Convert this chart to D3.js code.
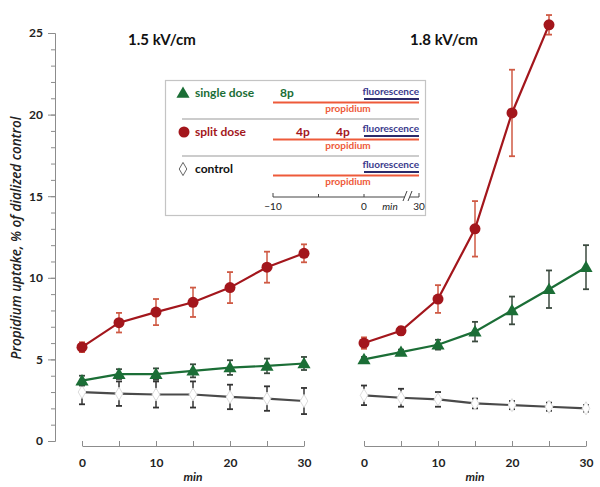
<!DOCTYPE html>
<html><head><meta charset="utf-8">
<script src="https://cdn.jsdelivr.net/npm/d3@7"></script>
<style>body{margin:0;background:#fff}svg{display:block}</style>
</head><body>
<svg id="c" width="600" height="487"></svg>
<script>
// ---- data ----
const minutes = [0, 5, 10, 15, 20, 25, 30];
const panelTitles = ["1.5 kV/cm", "1.8 kV/cm"];
const yTicks = [0, 5, 10, 15, 20, 25];
const xTickLabels = [0, 10, 20, 30];

const split15 = [5.75, 7.25, 7.9, 8.5, 9.4, 10.65, 11.5];
const split15Err = [0.3, 0.6, 0.8, 0.9, 0.95, 0.95, 0.55];
const single15 = [3.7, 4.1, 4.1, 4.3, 4.5, 4.6, 4.75];
const single15Err = [0.3, 0.3, 0.35, 0.4, 0.45, 0.45, 0.4];
const control15 = [3.0, 2.9, 2.85, 2.85, 2.7, 2.6, 2.45];
const control15Err = [0.75, 0.75, 0.8, 0.8, 0.75, 0.75, 0.8];

const split18 = [6.0, 6.75, 8.7, 13.0, 20.1, 25.5, null];
const split18Err = [0.35, 0.25, 0.85, 1.7, 2.65, 0.6, null];
const single18 = [5.0, 5.45, 5.9, 6.7, 8.0, 9.3, 10.65];
const single18Err = [0.15, 0.15, 0.3, 0.6, 0.85, 1.15, 1.35];
const control18 = [2.8, 2.65, 2.55, 2.3, 2.2, 2.1, 2.0];
const control18Err = [0.6, 0.55, 0.45, 0.3, 0.25, 0.25, 0.2];

const legendLabels = ["single dose", "split dose", "control"];

// ---- styles ----
const RED = "#a3161c", RED_ERR = "#cf5a44";
const GREEN = "#1b6e36", GREEN_ERR = "#3b4a3f";
const GRAY = "#4a4a4a", GRAY_ERR = "#333";
const AXIS = "#8c8c8c";
const FONT = "Lato, 'Open Sans', sans-serif";

const svg = d3.select("#c");
const y = d3.scaleLinear().domain([0, 25]).range([441, 33]);
const xs = [
  d3.scaleLinear().domain([0, 30]).range([82, 304]),
  d3.scaleLinear().domain([0, 30]).range([364, 586])
];

// y axis
const yAxisG = svg.append("g").attr("transform", "translate(55,0)");
yAxisG.append("g").call(d3.axisLeft(y).tickValues(d3.range(0, 26, 1)).tickSize(4).tickSizeOuter(0).tickFormat(""));
yAxisG.append("g").call(d3.axisLeft(y).tickValues(yTicks).tickSize(7).tickSizeOuter(0).tickPadding(5));
yAxisG.selectAll("path,line").attr("stroke", AXIS);
yAxisG.selectAll("text").attr("font-family", FONT).attr("font-weight", "bold").attr("font-size", 12).attr("fill", "#222");

const yLab = svg.append("text")
  .attr("transform", "translate(21,238) rotate(-90)")
  .attr("text-anchor", "middle")
  .attr("font-family", "'Open Sans', sans-serif").attr("font-style", "italic").attr("font-weight", 600)
  .attr("font-size", 12).attr("fill", "#222")
  .text("Propidium uptake, % of dialized control");
const natLen = yLab.node().getComputedTextLength();
if (natLen > 0) yLab.attr("font-size", (12 * 243 / natLen).toFixed(2));

// x axes
xs.forEach((x, i) => {
  const g = svg.append("g").attr("transform", "translate(0,446)")
    .call(d3.axisBottom(x).tickValues(minutes).tickSize(-5).tickSizeOuter(0).tickPadding(12)
      .tickFormat(d => xTickLabels.includes(d) ? d : ""));
  g.selectAll("path,line").attr("stroke", AXIS);
  g.selectAll("text").attr("font-family", FONT).attr("font-weight", "bold").attr("font-size", 12).attr("fill", "#222");
  svg.append("text").attr("x", (x.range()[0] + x.range()[1]) / 2).attr("y", 481)
    .attr("text-anchor", "middle").attr("font-family", FONT).attr("font-style", "italic")
    .attr("font-weight", "bold").attr("font-size", 12).attr("fill", "#222").text("min");
  svg.append("text").attr("x", x(10.8)).attr("y", 45)
    .attr("text-anchor", "middle").attr("font-family", FONT).attr("font-weight", "bold")
    .attr("font-size", 15).attr("fill", "#111").text(panelTitles[i]);
});

const triangle = d3.symbol().type(d3.symbolTriangle).size(75);
const diamond = d3.symbol().type(d3.symbolDiamond).size(50);

function drawSeries(x, vals, errs, color, errColor, marker) {
  const pts = minutes.map((m, i) => ({ m, v: vals[i], e: errs[i] })).filter(d => d.v != null);
  const g = svg.append("g");
  // error bars
  pts.forEach(d => {
    const cx = x(d.m), t = y(d.v + d.e), b = y(d.v - d.e);
    g.append("line").attr("x1", cx).attr("x2", cx).attr("y1", t).attr("y2", b).attr("stroke", errColor).attr("stroke-width", 1.5);
    [t, b].forEach(yy => g.append("line").attr("x1", cx - 3).attr("x2", cx + 3).attr("y1", yy).attr("y2", yy).attr("stroke", errColor).attr("stroke-width", 1.8));
  });
  g.append("path").datum(pts)
    .attr("d", d3.line().x(d => x(d.m)).y(d => y(d.v)))
    .attr("fill", "none").attr("stroke", color).attr("stroke-width", 2.2);
  pts.forEach(d => {
    if (marker === "circle") {
      g.append("circle").attr("cx", x(d.m)).attr("cy", y(d.v)).attr("r", 5.5).attr("fill", color);
    } else if (marker === "triangle") {
      g.append("path").attr("d", triangle).attr("transform", `translate(${x(d.m)},${y(d.v) + 1})`).attr("fill", color);
    } else {
      g.append("path").attr("d", diamond).attr("transform", `translate(${x(d.m)},${y(d.v)})`)
        .attr("fill", "#fff").attr("stroke", "#ddd").attr("stroke-width", 1);
    }
  });
}

drawSeries(xs[0], control15, control15Err, GRAY, GRAY_ERR, "diamond");
drawSeries(xs[0], single15, single15Err, GREEN, GREEN_ERR, "triangle");
drawSeries(xs[0], split15, split15Err, RED, RED_ERR, "circle");
drawSeries(xs[1], control18, control18Err, GRAY, GRAY_ERR, "diamond");
drawSeries(xs[1], single18, single18Err, GREEN, GREEN_ERR, "triangle");
drawSeries(xs[1], split18, split18Err, RED, RED_ERR, "circle");

// ---- legend ----
const L = svg.append("g");
L.append("rect").attr("x", 165.5).attr("y", 80.5).attr("width", 260).attr("height", 135)
  .attr("fill", "#fff").attr("stroke", "#c4c4c4").attr("stroke-width", 1.2);
const lx = d3.scaleLinear().domain([-10, 0]).range([273, 364]);
const lEnd = 419;
const rowY = [93, 132, 169];
const fluorY = [91, 128, 164];
const labelColors = [GREEN, RED, "#111"];
const BLUE = "#3a3a8c", NAVY = "#2a2a6a", ORANGE = "#ee5a3a";
rowY.forEach((ry, i) => {
  if (i === 0) L.append("path").attr("d", triangle).attr("transform", `translate(183,${ry + 1})`).attr("fill", GREEN);
  if (i === 1) L.append("circle").attr("cx", 184).attr("cy", ry).attr("r", 5.5).attr("fill", RED);
  if (i === 2) L.append("path").attr("d", diamond).attr("transform", `translate(183,${ry})`).attr("fill", "#fff").attr("stroke", "#666").attr("stroke-width", 1);
  L.append("text").attr("x", 195).attr("y", ry + 4).attr("font-family", FONT).attr("font-weight", "bold")
    .attr("font-size", 12).attr("fill", labelColors[i]).text(legendLabels[i]);
  const fc = fluorY[i];
  L.append("text").attr("x", lEnd).attr("y", fc + 3.5).attr("text-anchor", "end").attr("font-family", FONT)
    .attr("font-weight", "bold").attr("font-size", 10).attr("fill", BLUE).text("fluorescence");
  L.append("line").attr("x1", lx(0)).attr("x2", lEnd).attr("y1", fc + 8).attr("y2", fc + 8).attr("stroke", NAVY).attr("stroke-width", 2);
  L.append("line").attr("x1", lx(-10)).attr("x2", lEnd).attr("y1", fc + 11.5).attr("y2", fc + 11.5).attr("stroke", ORANGE).attr("stroke-width", 2);
  L.append("text").attr("x", 348).attr("y", fc + 21).attr("text-anchor", "middle").attr("font-family", FONT)
    .attr("font-weight", "bold").attr("font-size", 10).attr("fill", ORANGE).text("propidium");
  if (i < 2) L.append("line").attr("x1", 182).attr("x2", lEnd).attr("y1", [119, 156][i]).attr("y2", [119, 156][i]).attr("stroke", "#999").attr("stroke-width", 1);
});
// dose labels
L.append("text").attr("x", lx(-10) + 14).attr("y", rowY[0] + 4).attr("text-anchor", "middle").attr("font-family", FONT).attr("font-weight", "bold").attr("font-size", 12).attr("fill", GREEN).text("8p");
[303, 343].forEach(px => L.append("text").attr("x", px).attr("y", rowY[1] + 4).attr("text-anchor", "middle").attr("font-family", FONT).attr("font-weight", "bold").attr("font-size", 12).attr("fill", RED).text("4p"));
// mini time axis
const ay = 197;
L.append("path").attr("d", `M${lx(-10)},${ay - 4}V${ay}H${lx(0) + 41}M${lx(0) + 46},${ay}H${lEnd}V${ay - 4}`)
  .attr("fill", "none").attr("stroke", "#444").attr("stroke-width", 1);
[-5, 0].forEach(t => L.append("line").attr("x1", lx(t)).attr("x2", lx(t)).attr("y1", ay - 3).attr("y2", ay).attr("stroke", "#444"));
L.append("path").attr("d", `M${lx(0) + 39},${ay + 4}L${lx(0) + 43},${ay - 6}M${lx(0) + 44},${ay + 4}L${lx(0) + 48},${ay - 6}`).attr("stroke", "#444").attr("fill", "none");
[["−10", lx(-10)], ["0", lx(0)], ["30", lEnd]].forEach(([t, px]) =>
  L.append("text").attr("x", px).attr("y", ay + 13).attr("text-anchor", "middle").attr("font-family", FONT).attr("font-size", 10).attr("fill", "#222").text(t));
L.append("text").attr("x", 390).attr("y", ay + 13).attr("text-anchor", "middle").attr("font-family", FONT).attr("font-style", "italic").attr("font-size", 10).attr("fill", "#222").text("min");
</script>
</body></html>
